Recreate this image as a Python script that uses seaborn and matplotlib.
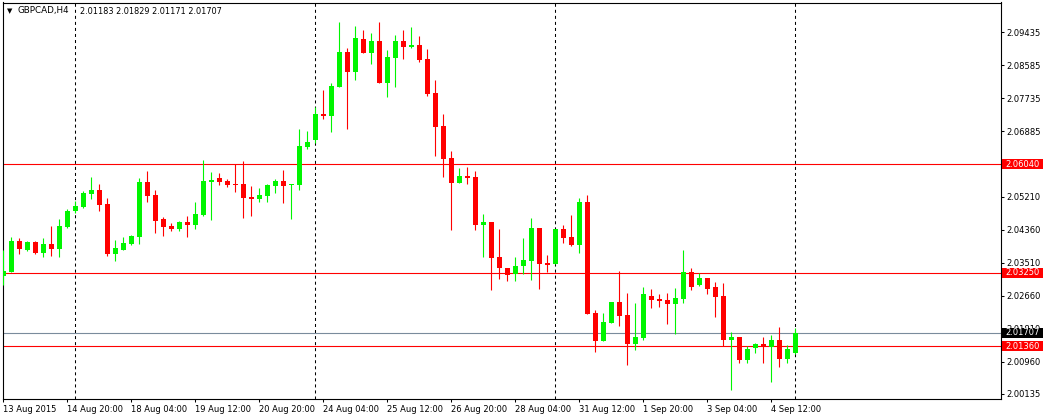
import numpy as np
import pandas as pd
import matplotlib
matplotlib.use("Agg")
import matplotlib.pyplot as plt
import matplotlib.transforms as mtrans
from matplotlib.patches import Rectangle
import seaborn as sns

# ---------------- data (GBPCAD, H4) ----------------
opens = [2.03175, 2.03277, 2.04067, 2.03835, 2.04040, 2.03766, 2.03990, 2.03868, 2.04418, 2.04837,
         2.04941, 2.05274, 2.05377, 2.05017, 2.03740, 2.03843, 2.03990, 2.04169, 2.05583, 2.05249,
         2.04632, 2.04452, 2.04375, 2.04555, 2.04478, 2.04734, 2.05583, 2.05685, 2.05608, 2.05531,
         2.05531, 2.05197, 2.05146, 2.05223, 2.05480, 2.05608, 2.05506, 2.05506, 2.06483, 2.06663,
         2.07329, 2.07280, 2.08024, 2.08924, 2.08410, 2.09258, 2.08898, 2.09206, 2.08127, 2.08770,
         2.09206, 2.09052, 2.09103, 2.08744, 2.07870, 2.07022, 2.06200, 2.05557, 2.05737, 2.05711,
         2.04478, 2.04555, 2.03660, 2.03372, 2.03218, 2.03424, 2.03552, 2.04401, 2.03501, 2.03475,
         2.04375, 2.04169, 2.03963, 2.05069, 2.02216, 2.01496, 2.01959, 2.02499, 2.02164, 2.01419,
         2.01573, 2.02653, 2.02576, 2.02550, 2.02447, 2.02576, 2.03270, 2.02936, 2.03115, 2.02884,
         2.02653, 2.01522, 2.01599, 2.01008, 2.01316, 2.01419, 2.01342, 2.01522, 2.01034, 2.01183]
highs = [2.03835, 2.04161, 2.04143, 2.04066, 2.04066, 2.04143, 2.04452, 2.04632, 2.04889, 2.05094,
         2.05351, 2.05711, 2.05539, 2.05170, 2.04092, 2.04169, 2.04221, 2.05693, 2.05865, 2.05377,
         2.04683, 2.04521, 2.04581, 2.04709, 2.05069, 2.06150, 2.05840, 2.05814, 2.05660, 2.06045,
         2.06122, 2.05480, 2.05429, 2.05531, 2.05660, 2.05891, 2.05531, 2.06945, 2.06894, 2.07511,
         2.07948, 2.08127, 2.09695, 2.09026, 2.09592, 2.09489, 2.09412, 2.09695, 2.08975, 2.09361,
         2.09489, 2.09566, 2.09335, 2.09001, 2.08204, 2.07329, 2.06380, 2.05943, 2.05969, 2.05865,
         2.04760, 2.04555, 2.04375, 2.03372, 2.03655, 2.04143, 2.04658, 2.04401, 2.03706, 2.04375,
         2.04478, 2.04734, 2.05171, 2.05249, 2.02293, 2.02216, 2.02499, 2.03295, 2.02730, 2.02473,
         2.02884, 2.02833, 2.02704, 2.02730, 2.02858, 2.03835, 2.03372, 2.03244, 2.03115, 2.03012,
         2.02987, 2.01728, 2.01599, 2.01368, 2.01445, 2.01599, 2.01651, 2.01856, 2.01394, 2.01829]
lows = [2.02935, 2.03260, 2.03740, 2.03810, 2.03740, 2.03663, 2.03689, 2.03663, 2.04408, 2.04786,
        2.04922, 2.05146, 2.04845, 2.03681, 2.03560, 2.03835, 2.03964, 2.03997, 2.05077, 2.04272,
        2.04195, 2.04323, 2.04323, 2.04169, 2.04375, 2.04709, 2.04606, 2.05506, 2.05454, 2.05326,
        2.04658, 2.04709, 2.05069, 2.05069, 2.05300, 2.05043, 2.04632, 2.05377, 2.06432, 2.06586,
        2.07202, 2.06868, 2.08024, 2.06945, 2.08204, 2.08898, 2.08616, 2.08127, 2.07767, 2.08024,
        2.08744, 2.09026, 2.08667, 2.07793, 2.06251, 2.05711, 2.04349, 2.05557, 2.05531, 2.04349,
        2.03655, 2.02807, 2.03090, 2.03038, 2.03038, 2.03218, 2.03064, 2.02833, 2.03270, 2.03475,
        2.04015, 2.03938, 2.03758, 2.02190, 2.01214, 2.01496, 2.01959, 2.01882, 2.00880, 2.01265,
        2.01522, 2.02344, 2.02370, 2.01933, 2.01676, 2.02473, 2.02807, 2.02910, 2.02704, 2.02113,
        2.01368, 2.00237, 2.00931, 2.00931, 2.01188, 2.00931, 2.00443, 2.00828, 2.00931, 2.01171]
closes = [2.03296, 2.04067, 2.03868, 2.04040, 2.03766, 2.03990, 2.03868, 2.04452, 2.04837, 2.04966,
          2.05308, 2.05377, 2.04992, 2.03725, 2.03886, 2.04015, 2.04195, 2.05583, 2.05223, 2.04580,
          2.04426, 2.04375, 2.04555, 2.04478, 2.04760, 2.05608, 2.05634, 2.05583, 2.05506, 2.05514,
          2.05171, 2.05146, 2.05249, 2.05506, 2.05608, 2.05480, 2.05531, 2.06508, 2.06611, 2.07329,
          2.07286, 2.08050, 2.08924, 2.08410, 2.09283, 2.08898, 2.09206, 2.08127, 2.08795, 2.09206,
          2.09052, 2.09103, 2.08718, 2.07844, 2.06996, 2.06174, 2.05557, 2.05737, 2.05685, 2.04478,
          2.04555, 2.03629, 2.03372, 2.03193, 2.03424, 2.03578, 2.04401, 2.03475, 2.03450, 2.04375,
          2.04143, 2.03963, 2.05069, 2.02190, 2.01496, 2.01985, 2.02499, 2.02139, 2.01419, 2.01599,
          2.02704, 2.02550, 2.02524, 2.02447, 2.02601, 2.03270, 2.02884, 2.03115, 2.02833, 2.02627,
          2.01522, 2.01599, 2.01008, 2.01290, 2.01419, 2.01342, 2.01522, 2.01034, 2.01290, 2.01707]

x_tick_bars = [0, 8, 16, 24, 32, 40, 48, 56, 64, 72, 80, 88, 96]
x_tick_labels = ["13 Aug 2015", "14 Aug 20:00", "18 Aug 04:00", "19 Aug 12:00", "20 Aug 20:00",
                 "24 Aug 04:00", "25 Aug 12:00", "26 Aug 20:00", "28 Aug 04:00", "31 Aug 12:00",
                 "1 Sep 20:00", "3 Sep 04:00", "4 Sep 12:00"]
y_tick_values = [2.09435, 2.08585, 2.07735, 2.06885, 2.05210, 2.04360, 2.03510,
                 2.02660, 2.01810, 2.00960, 2.00135]
level_lines = [2.06040, 2.03250, 2.01360]
last_price = 2.01707
separator_bars = [9, 39, 69, 99]
title_symbol = "GBPCAD,H4"
title_ohlc = "2.01183 2.01829 2.01171 2.01707"

# ---------------- style ----------------
sns.set_style("white")
plt.rcParams['font.family'] = ['DejaVu Sans']

GREEN = "#00F500"
RED = "#FF0000"
LASTC = "#7A8B9C"

W, H = 1044, 417
fig = plt.figure(figsize=(W / 100, H / 100), dpi=100)
fig.patch.set_facecolor("white")
ax = fig.add_axes([2.5 / W, (H - 399) / H, (1001 - 2.5) / W, (399 - 2.5) / H])
ax.set_facecolor("white")

df = pd.DataFrame(dict(bar=np.arange(len(opens)), open=opens, high=highs,
                       low=lows, close=closes))
df["color"] = np.where(df["close"] >= df["open"], GREEN, RED)
df["bottom"] = np.minimum(df["open"], df["close"])
df["height"] = np.maximum(np.abs(df["close"] - df["open"]), 0.00030)

# period separators and levels
for b in separator_bars:
    ax.axvline(b, color="black", lw=0.75, linestyle=(0, (2.9, 2.9)), zorder=1)
for lv in level_lines:
    ax.axhline(lv, color=RED, lw=0.8, zorder=2)
ax.axhline(last_price, color=LASTC, lw=0.8, zorder=2)

# candles
ax.vlines(df["bar"], df["low"], df["high"], colors=df["color"], linewidth=0.8, zorder=3)
ax.bar(df["bar"], df["height"], bottom=df["bottom"], width=0.62,
       color=df["color"], linewidth=0, zorder=4)

ax.set_xlim(-0.1, 124.71)
ax.set_ylim(2.00006, 2.10196)

for s in ax.spines.values():
    s.set_color("black")
    s.set_linewidth(0.8)
    s.set_visible(True)

ax.set_xticks(x_tick_bars)
ax.set_xticklabels(x_tick_labels, ha="left")
ax.yaxis.tick_right()
ax.set_yticks(y_tick_values)
ax.set_yticklabels([f"{v:.5f}" for v in y_tick_values])
ax.tick_params(axis="x", direction="out", length=2.5, width=0.75, pad=1.5,
               labelsize=6, colors="black", bottom=True)
ax.tick_params(axis="y", direction="out", length=2.5, width=0.75, pad=1.5,
               labelsize=6, colors="black", right=True, left=False)
ax.set_xlabel("")
ax.set_ylabel("")

# price boxes on the right scale
bt = mtrans.blended_transform_factory(fig.transFigure, ax.transData)
box_h = 10 * 0.000257
for lv, fc in [(lv, RED) for lv in level_lines] + [(last_price, "black")]:
    ax.add_patch(Rectangle((1002 / W, lv - box_h / 2), 41 / W, box_h, transform=bt,
                           facecolor=fc, edgecolor="none", clip_on=False, zorder=20))
    ax.text(1005 / W, lv, f"{lv:.5f}", transform=bt, color="white", fontsize=6,
            va="center", ha="left", zorder=21, clip_on=False)

# title
fig.text(7 / W, 1 - 11 / H, "\u25BC", fontsize=5, va="center", ha="left", color="black")
fig.text(18 / W, 1 - 11 / H, title_symbol, fontsize=6.3, va="center", ha="left", color="black")
fig.text(80 / W, 1 - 11 / H, title_ohlc, fontsize=5.9, va="center", ha="left", color="black")

fig.savefig("out.png", dpi=100, facecolor="white")
